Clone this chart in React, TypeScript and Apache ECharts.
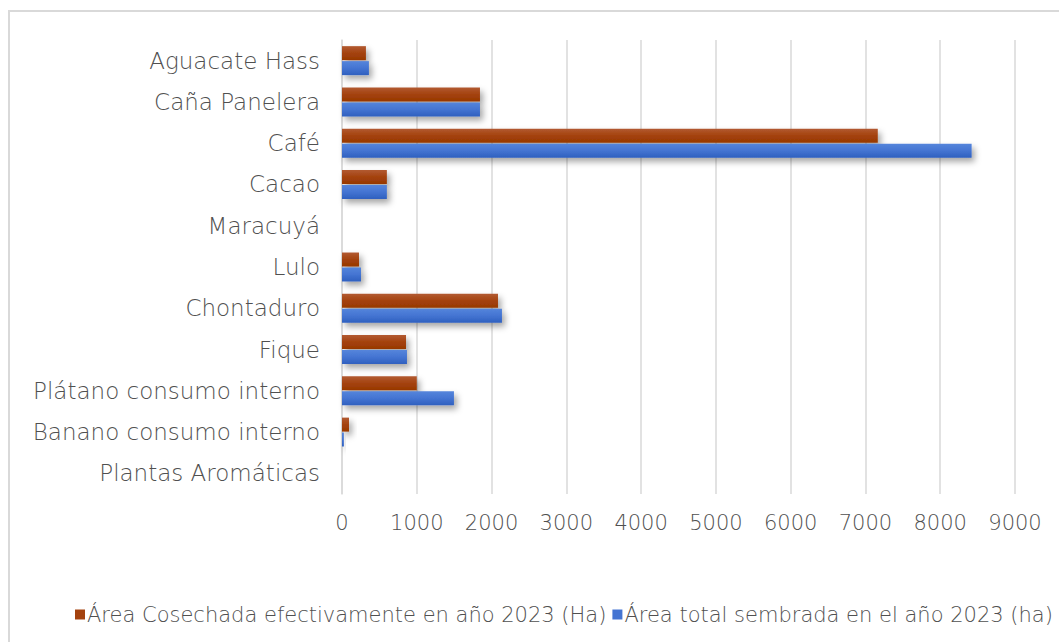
import React, { useEffect, useRef } from "react";
import * as echarts from "echarts";

const categories = [
  "Aguacate Hass",
  "Caña Panelera",
  "Café",
  "Cacao",
  "Maracuyá",
  "Lulo",
  "Chontaduro",
  "Fique",
  "Plátano consumo interno",
  "Banano consumo interno",
  "Plantas Aromáticas",
];

const seriesNames = [
  "Área Cosechada efectivamente en año 2023 (Ha)",
  "Área total sembrada en el año 2023 (ha)",
];

const cosechada = [320, 1845, 7165, 600, 0, 227, 2086, 856, 1000, 94, 0];
const sembrada = [360, 1845, 8420, 600, 0, 254, 2139, 869, 1497, 25, 0];

const xTicks = { min: 0, max: 9000, interval: 1000 };

const FONT = "DejaVu Sans";
const TEXT_COLOR = "#595959";

export default function App() {
  const ref = useRef<HTMLDivElement>(null);

  useEffect(() => {
    if (!ref.current) return;
    const chart = echarts.init(ref.current, null, { renderer: "svg" });
    const orangeGrad = new echarts.graphic.LinearGradient(0, 0, 0, 1, [
      { offset: 0, color: "#B25A32" },
      { offset: 0.5, color: "#A4420E" },
      { offset: 1, color: "#983800" },
    ]);
    const blueGrad = new echarts.graphic.LinearGradient(0, 0, 0, 1, [
      { offset: 0, color: "#5585DB" },
      { offset: 0.5, color: "#4474D2" },
      { offset: 1, color: "#2F60BF" },
    ]);
    const shadow = {
      shadowBlur: 6,
      shadowOffsetX: 3,
      shadowOffsetY: 4,
      shadowColor: "rgba(0,0,0,0.35)",
    };
    chart.setOption({
      animation: false,
      backgroundColor: "#ffffff",
      graphic: [
        {
          type: "rect",
          shape: { x: 9, y: 11, width: 1100, height: 700 },
          style: { fill: "none", stroke: "#D9D9D9", lineWidth: 2 },
          silent: true,
        },
      ],
      grid: { left: 342, right: 44, top: 40, bottom: 148, containLabel: false },
      legend: {
        left: 70,
        top: 599,
        icon: "rect",
        itemWidth: 10,
        itemHeight: 10,
        itemGap: 6,
        textStyle: {
          fontFamily: FONT,
          fontSize: 21,
          fontWeight: 200,
          color: "#505050",
          padding: [0, 0, 0, -3],
        },
        data: [
          { name: seriesNames[0], itemStyle: { color: "#A4420E" } },
          { name: seriesNames[1], itemStyle: { color: "#4474D2" } },
        ],
      },
      xAxis: {
        type: "value",
        min: xTicks.min,
        max: xTicks.max,
        interval: xTicks.interval,
        axisLine: { show: false },
        axisTick: { show: false },
        axisLabel: {
          fontFamily: FONT,
          fontSize: 21,
          fontWeight: 200,
          color: "#505050",
          margin: 18,
          formatter: (v: number) => String(v),
        },
        splitLine: { lineStyle: { color: "#D9D9D9", width: 1.5 } },
      },
      yAxis: {
        type: "category",
        data: categories,
        inverse: true,
        axisLine: { show: true, lineStyle: { color: "#D9D9D9", width: 1.5 } },
        axisTick: { show: false },
        axisLabel: {
          fontFamily: FONT,
          fontSize: 23,
          fontWeight: 200,
          color: "#505050",
          margin: 22,
        },
      },
      series: [
        {
          name: seriesNames[0],
          type: "bar",
          data: cosechada,
          barWidth: 14,
          barGap: "7%",
          itemStyle: { color: orangeGrad, ...shadow },
        },
        {
          name: seriesNames[1],
          type: "bar",
          data: sembrada,
          barWidth: 14,
          barGap: "7%",
          itemStyle: { color: blueGrad, ...shadow },
        },
      ],
    });
    return () => chart.dispose();
  }, []);

  return (
    <div
      ref={ref}
      style={{ position: "absolute", left: 0, top: 0, width: 1059, height: 642 }}
    />
  );
}
